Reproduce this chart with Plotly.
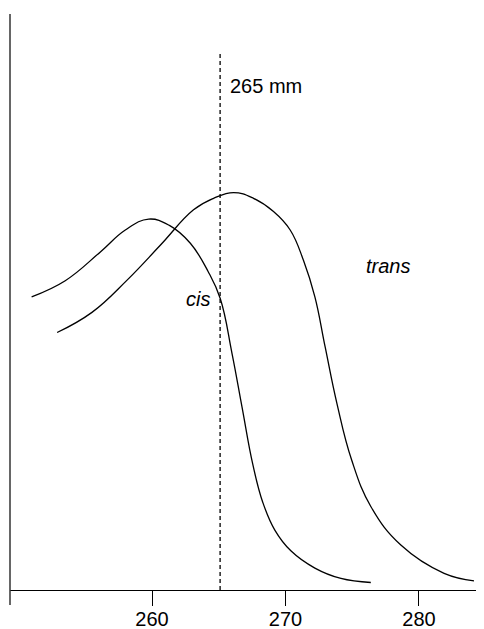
import plotly.graph_objects as go

# Data (wavelength in nm, relative absorbance)
cis_x = [250.98, 253.5, 256.13, 258.0, 259.75, 261.3, 262.87, 264.2, 265.11, 265.99,
         266.74, 267.55, 268.3, 269.2, 270.4, 272.2, 274.15, 276.39]
cis_y = [0.509, 0.537, 0.587, 0.625, 0.644, 0.633, 0.602, 0.553, 0.506, 0.411,
         0.318, 0.218, 0.152, 0.104, 0.068, 0.038, 0.020, 0.013]

trans_x = [252.89, 255.5, 258.13, 260.6, 263.11, 264.61, 266.11, 267.60, 269.10, 270.35,
           271.35, 272.2, 272.97, 273.85, 274.95, 276.39, 278.64, 281.88, 284.12]
trans_y = [0.447, 0.482, 0.538, 0.598, 0.660, 0.680, 0.690, 0.680, 0.657, 0.625,
           0.572, 0.509, 0.422, 0.324, 0.226, 0.145, 0.078, 0.029, 0.016]

tick_vals = [260, 270, 280]
tick_text = ["260", "270", "280"]
marker_x = 265.1
marker_label = "265 mm"

FONT = "Liberation Sans, Arial, sans-serif"
PLOT_H = 576  # plot-area height in px

fig = go.Figure()
line_style = dict(color="black", width=1.3, shape="spline", smoothing=1.2)
fig.add_trace(go.Scatter(x=cis_x, y=cis_y, mode="lines", line=line_style,
                         hoverinfo="skip", showlegend=False))
fig.add_trace(go.Scatter(x=trans_x, y=trans_y, mode="lines", line=line_style,
                         hoverinfo="skip", showlegend=False))

# dashed marker line
fig.add_shape(type="line", xref="x", yref="paper", x0=marker_x, x1=marker_x,
              y0=0, y1=(590 - 52) / PLOT_H,
              line=dict(color="black", width=1.3, dash="4px,3px"))
# y-axis line extended below x-axis
fig.add_shape(type="line", xref="paper", yref="paper", x0=0, x1=0,
              y0=-15 / PLOT_H, y1=1, line=dict(color="#333", width=1.5))

fig.add_annotation(x=marker_x, y=(590 - 86) / PLOT_H, xref="x", yref="paper",
                   text=marker_label, showarrow=False, xanchor="left", yanchor="middle",
                   xshift=8, font=dict(family=FONT, size=20, color="black"))
fig.add_annotation(x=263.43, y=(590 - 299) / PLOT_H,
                   xref="x", yref="paper", text="<i>cis</i>", showarrow=False,
                   xanchor="center", yanchor="middle",
                   font=dict(family=FONT, size=20, color="black"))
fig.add_annotation(x=277.69, y=(590 - 266) / PLOT_H, xref="x", yref="paper",
                   text="<i>trans</i>", showarrow=False, xanchor="center", yanchor="middle",
                   font=dict(family=FONT, size=20, color="black"))

fig.update_layout(
    width=476, height=621, autosize=False,
    margin=dict(l=2, r=0, t=6, b=39, pad=0),
    paper_bgcolor="white", plot_bgcolor="white",
    font=dict(family=FONT, size=20, color="black"),
    xaxis=dict(range=[249.36, 284.87], showline=True, linecolor="black", linewidth=1.3,
               ticks="outside", ticklen=15, tickwidth=1.3, tickcolor="black",
               tickvals=tick_vals, ticktext=tick_text, showgrid=False, zeroline=False,
               automargin=False, ticklabelstandoff=-4,
               tickfont=dict(family=FONT, size=20, color="black")),
    yaxis=dict(range=[0, 1], visible=False, showgrid=False, zeroline=False,
               automargin=False),
)

fig.write_html("out.html")
